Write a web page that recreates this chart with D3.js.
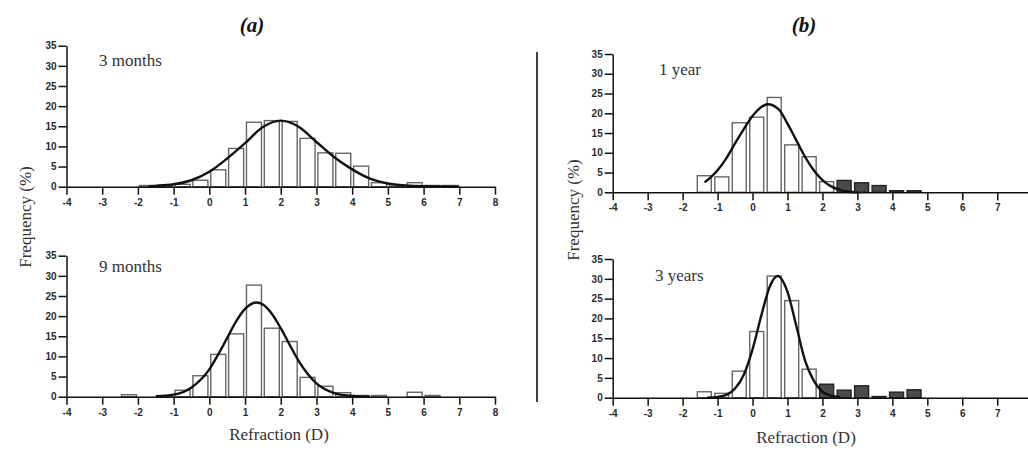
<!DOCTYPE html>
<head>
  <meta charset="utf-8">
  <script src="https://d3js.org/d3.v7.min.js"></script>
<style>
body { margin:0; background:#fff; }
svg { display:block; }

.axis path, .axis line {
  stroke: #111;
  stroke-width: 1.5px;
}
.axis text {
  font-family: "Liberation Sans", Arial, sans-serif;
  font-weight: bold;
  font-size: 10px;
  fill: #2a2a2a;
}
.bar {
  fill: #fff;
  stroke: #666;
  stroke-width: 1.4px;
}
.bar--dark {
  fill: #4a4a4a;
  stroke: #222;
}
.fit {
  fill: none;
  stroke: #111;
  stroke-width: 2.4px;
}
.lbl {
  font-family: "Liberation Serif", "Times New Roman", serif;
  font-size: 17px;
  fill: #333;
}
.title {
  font-family: "Liberation Serif", "Times New Roman", serif;
  font-size: 21px;
  font-weight: bold;
  font-style: italic;
  fill: #111;
}
</style>
</head>

<body>
<script>
// tick values
var xTicksA = [-4, -3, -2, -1, 0, 1, 2, 3, 4, 5, 6, 7, 8];
var xTicksB = [-4, -3, -2, -1, 0, 1, 2, 3, 4, 5, 6, 7];
var yTicks = [0, 5, 10, 15, 20, 25, 30, 35];

// 3 months
var bins3m = [-1.75, -1.25, -0.75, -0.25, 0.25, 0.75, 1.25, 1.75, 2.25, 2.75, 3.25, 3.75, 4.25, 4.75, 5.25, 5.75, 6.25, 6.75];
var freq3m = [0.3, 0.4, 0.6, 1.6, 4.2, 9.5, 16.0, 16.4, 16.2, 12.0, 8.4, 8.3, 5.1, 1.0, 0.5, 1.0, 0.3, 0.3];
var fit3mX = [-1.7, -1.5, -1, -0.5, 0, 0.5, 1, 1.5, 2, 2.5, 3, 3.5, 4, 4.5, 5, 5.5, 6, 6.5, 7];
var fit3mY = [0.1, 0.2, 0.6, 1.6, 3.7, 7.0, 10.8, 14.8, 16.4, 14.9, 11.1, 7.3, 4.3, 2.0, 0.8, 0.3, 0.1, 0.05, 0.02];

// 9 months
var bins9m = [-2.25, -1.25, -0.75, -0.25, 0.25, 0.75, 1.25, 1.75, 2.25, 2.75, 3.25, 3.75, 4.25, 4.75, 5.75, 6.25];
var freq9m = [0.5, 0.2, 1.6, 5.2, 10.5, 15.6, 27.7, 17.0, 13.7, 4.8, 2.6, 1.0, 0.3, 0.3, 1.1, 0.3];
var fit9mX = [-1.5, -1, -0.5, 0, 0.25, 0.5, 0.75, 1, 1.32, 1.5, 1.75, 2, 2.25, 2.5, 2.75, 3, 3.5, 4, 4.5];
var fit9mY = [0.1, 0.5, 2.3, 6.8, 10.5, 14.6, 18.7, 21.8, 23.4, 22.9, 20.6, 17.0, 12.9, 8.9, 5.7, 3.3, 0.9, 0.2, 0.03];

// 1 year
var bins1y = [-1.38, -0.88, -0.38, 0.12, 0.62, 1.12, 1.62, 2.12, 2.62, 3.12, 3.62, 4.12, 4.62];
var freq1y = [4.2, 3.9, 17.6, 19.0, 24.0, 12.0, 9.0, 2.7, 3.0, 2.4, 1.7, 0.4, 0.4];
var dark1y = 2.5;   // bars from this refraction on are filled
var fit1yX = [-1.37, -1, -0.75, -0.5, -0.25, 0, 0.25, 0.43, 0.75, 1, 1.25, 1.5, 1.75, 2, 2.25, 2.5, 2.75, 3];
var fit1yY = [2.5, 5.6, 8.6, 12.4, 16.0, 19.3, 21.6, 22.3, 21.0, 17.4, 13.2, 9.0, 5.6, 3.1, 1.5, 0.6, 0.15, 0];

// 3 years
var bins3y = [-1.38, -0.88, -0.38, 0.12, 0.62, 1.12, 1.62, 2.12, 2.62, 3.12, 3.62, 4.12, 4.62];
var freq3y = [1.5, 1.1, 6.7, 16.7, 30.7, 24.5, 7.2, 3.4, 1.9, 3.0, 0.3, 1.4, 2.0];
var dark3y = 2.0;
var fit3yX = [-1.3, -1, -0.75, -0.5, -0.25, 0, 0.25, 0.5, 0.72, 1, 1.25, 1.5, 1.75, 2, 2.25, 2.5];
var fit3yY = [0, 0.2, 0.7, 2.3, 5.8, 12.2, 20.7, 28.2, 30.7, 26.7, 18.2, 9.4, 4.3, 1.5, 0.5, 0.1];

var W = 1028, H = 452;

var svg = d3.select("body").append("svg")
    .attr("width", W)
    .attr("height", H);

// panel layout in pixels
var panels = [
  {bins: bins3m, freq: freq3m, fx: fit3mX, fy: fit3mY, dark: Infinity, name: "3 months", ticks: xTicksA,
   x0: 66.5, x1: 495, y0: 186.7, y1: 45.7, lx: 99, ly: 66, bw: 0.42},
  {bins: bins9m, freq: freq9m, fx: fit9mX, fy: fit9mY, dark: Infinity, name: "9 months", ticks: xTicksA,
   x0: 66.5, x1: 495, y0: 396.7, y1: 255.7, lx: 99, ly: 272, bw: 0.42},
  {bins: bins1y, freq: freq1y, fx: fit1yX, fy: fit1yY, dark: dark1y, name: "1 year", ticks: xTicksB,
   x0: 612.7, x1: 1032.2, y0: 192.3, y1: 54, lx: 659, ly: 75, bw: 0.4},
  {bins: bins3y, freq: freq3y, fx: fit3yX, fy: fit3yY, dark: dark3y, name: "3 years", ticks: xTicksB,
   x0: 612.7, x1: 1032.2, y0: 397.7, y1: 259, lx: 655, ly: 281, bw: 0.4}
];

panels.forEach(p => {
  var x = d3.scaleLinear().domain([-4, 8]).range([p.x0, p.x1]);
  var y = d3.scaleLinear().domain([0, 35]).range([p.y0, p.y1]);
  var g = svg.append("g");

  var data = p.bins.map((b, i) => ({c: b, v: p.freq[i]}));

  g.selectAll(".bar")
      .data(data)
    .enter().append("rect")
      .attr("class", d => d.c >= p.dark ? "bar bar--dark" : "bar")
      .attr("x", d => x(d.c - p.bw / 2))
      .attr("width", d => x(d.c + p.bw / 2) - x(d.c - p.bw / 2))
      .attr("y", d => y(d.v))
      .attr("height", d => y(0) - y(d.v));

  // fitted normal curve
  var line = d3.line()
      .x(d => x(d[0]))
      .y(d => y(d[1]))
      .curve(d3.curveMonotoneX);
  g.append("path")
      .datum(p.fx.map((v, i) => [v, p.fy[i]]))
      .attr("class", "fit")
      .attr("d", line);

  // axes
  g.append("g")
      .attr("class", "axis")
      .attr("transform", "translate(0," + y(0) + ")")
      .call(d3.axisBottom(x).tickValues(p.ticks).tickFormat(d => String(d))
        .tickSize(8).tickSizeOuter(0).tickPadding(4));
  g.append("g")
      .attr("class", "axis")
      .attr("transform", "translate(" + x(-4) + ",0)")
      .call(d3.axisLeft(y).tickValues(yTicks).tickSize(8).tickSizeOuter(0).tickPadding(2));

  g.append("text")
      .attr("class", "lbl")
      .attr("x", p.lx)
      .attr("y", p.ly)
      .text(p.name);
});

// axis titles
[[279, 440], [806, 443]].forEach(t => {
  svg.append("text")
      .attr("class", "lbl")
      .attr("x", t[0]).attr("y", t[1])
      .attr("text-anchor", "middle")
      .text("Refraction (D)");
});
[[25, 217], [573, 210]].forEach(t => {
  svg.append("text")
      .attr("class", "lbl")
      .attr("transform", "translate(" + t[0] + "," + t[1] + ") rotate(-90)")
      .attr("text-anchor", "middle")
      .attr("dominant-baseline", "central")
      .text("Frequency (%)");
});

// panel titles
svg.append("text").attr("class", "title")
    .attr("x", 252).attr("y", 32).attr("text-anchor", "middle").text("(a)");
svg.append("text").attr("class", "title")
    .attr("x", 804).attr("y", 32).attr("text-anchor", "middle").text("(b)");

// divider between (a) and (b)
svg.append("line")
    .attr("x1", 537).attr("x2", 537)
    .attr("y1", 52).attr("y2", 402)
    .attr("stroke", "#111")
    .attr("stroke-width", 1.6);
</script>
</body>
